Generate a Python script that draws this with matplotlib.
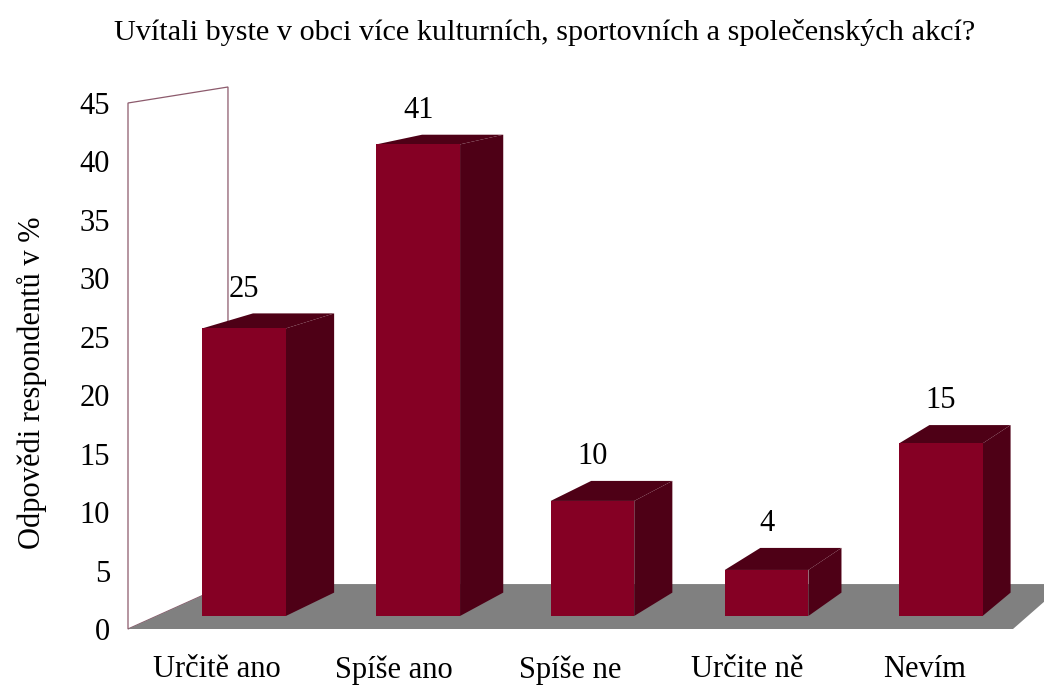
import matplotlib.pyplot as plt
from matplotlib.patches import Polygon

# data
categories = ['Určitě ano', 'Spíše ano', 'Spíše ne', 'Určite ně', 'Nevím']
values = [25, 41, 10, 4, 15]
y_ticks = [0, 5, 10, 15, 20, 25, 30, 35, 40, 45]

title = 'Uvítali byste v obci více kulturních, sportovních a společenských akcí?'
y_label = 'Odpovědi respondentů v %'

# pseudo 3D look (Excel style perspective)
VX, VY = 9.77, 69.9   # vanishing point in data units
K = 0.055             # shrink over full depth
T0, T1 = 0.29, 0.81   # bar depth range
BAR_W = 0.48
FRONT = '#850024'
DARK = '#4e0016'

plt.rcParams['font.family'] = ['Liberation Serif', 'DejaVu Serif']


def proj(x, y, t):  # point with depth t -> flat data coords
    s = K * t
    return (x + s * (VX - x), y + s * (VY - y))


def face(ax, pts, color, z, ec='none', lw=0):
    ax.add_patch(Polygon([proj(*p) for p in pts], closed=True, fc=color,
                         ec=ec, lw=lw, zorder=z, clip_on=False))


fig = plt.figure(figsize=(10.44, 6.85), dpi=100)
ax = fig.add_axes([128 / 1044, 56 / 685, 885 / 1044, 526 / 685])
x_lo, x_hi = -0.5, len(categories) - 0.5
y_top = y_ticks[-1]
ax.set_xlim(x_lo, x_hi)
ax.set_ylim(0, y_top)

# side wall
face(ax, [(x_lo, 0, 0), (x_lo, y_top, 0), (x_lo, y_top, 1), (x_lo, 0, 1)],
     'white', 1, ec='#8c5a6c', lw=0.9)
# floor
face(ax, [(x_lo, 0, 0), (x_hi, 0, 0), (x_hi, 0, 1), (x_lo, 0, 1)], '#808080', 2)

for i, v in enumerate(values):
    a, b = i - BAR_W / 2, i + BAR_W / 2
    face(ax, [(b, 0, T0), (b, v, T0), (b, v, T1), (b, 0, T1)], DARK, 3)
    face(ax, [(a, v, T0), (b, v, T0), (b, v, T1), (a, v, T1)], DARK, 3)
    face(ax, [(a, 0, T0), (b, 0, T0), (b, v, T0), (a, v, T0)], FRONT, 4)
    lx = proj(i, v, T0)[0]
    ly = proj(i, v, T1)[1]
    ax.annotate(str(v), (lx, ly), xytext=(0, 7), textcoords='offset points',
                ha='center', va='bottom', fontsize=22, annotation_clip=False)

ax.set_yticks(y_ticks)
ax.set_xticks(range(len(categories)))
ax.set_xticklabels(categories)
ax.tick_params(axis='y', length=0, pad=13, labelsize=22)
ax.tick_params(axis='x', length=0, pad=19, labelsize=22)
for sp in ax.spines.values():
    sp.set_visible(False)
ax.patch.set_visible(False)

ax.set_ylabel(y_label, fontsize=22)
ax.yaxis.set_label_coords(-0.0915, 0.468)
fig.text(545 / 1044, 1 - 33 / 685, title, ha='center', va='center', fontsize=21.8)

fig.savefig('out.png', dpi=100)
